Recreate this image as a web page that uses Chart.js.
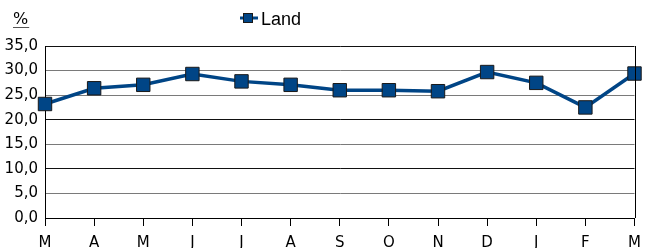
<!DOCTYPE html>
<html>
<head>
<meta charset="utf-8">
<script src="https://cdn.jsdelivr.net/npm/chart.js@4"></script>
<style>
  body { margin: 0; background: #fff; }
</style>
</head>
<body>
<canvas id="landChart" width="645" height="248"></canvas>
<script>
// months (M = mars ... M = mars next year)
const months = ['M', 'A', 'M', 'J', 'J', 'A', 'S', 'O', 'N', 'D', 'J', 'F', 'M'];
const landValues = [23.2, 26.4, 27.1, 29.3, 27.8, 27.1, 26.0, 26.0, 25.8, 29.7, 27.5, 22.5, 29.4];
const seriesName = 'Land';
const unitLabel = '%';
const yMin = 0;
const yMax = 35;
const yStep = 5;

const lineColor = '#004586';

// draws the legend, the % label and the right edge of the plot box
const extrasPlugin = {
    id: 'extras',
    afterDraw(chart) {
        const ctx = chart.ctx;
        const area = chart.chartArea;
        ctx.save();

        // right border
        ctx.strokeStyle = '#000';
        ctx.lineWidth = 1;
        ctx.beginPath();
        ctx.moveTo(Math.round(area.right) + 0.5, area.top);
        ctx.lineTo(Math.round(area.right) + 0.5, area.bottom);
        ctx.stroke();

        // % label, underlined
        ctx.fillStyle = '#000';
        ctx.font = '16px "DejaVu Sans"';
        ctx.textBaseline = 'alphabetic';
        ctx.fillText(unitLabel, 13, 24);
        const w = ctx.measureText(unitLabel).width;
        ctx.fillStyle = '#555';
        ctx.fillRect(13, 27, w + 1, 1);

        // legend: line + marker + text
        ctx.strokeStyle = lineColor;
        ctx.lineWidth = 3;
        ctx.beginPath();
        ctx.moveTo(240, 18);
        ctx.lineTo(258, 18);
        ctx.stroke();
        ctx.fillStyle = lineColor;
        ctx.fillRect(243, 13, 10, 10);
        ctx.strokeStyle = '#1a1a1a';
        ctx.lineWidth = 1;
        ctx.strokeRect(243.5, 13.5, 9, 9);
        ctx.fillStyle = '#000';
        ctx.font = '18px "Liberation Sans"';
        ctx.fillText(seriesName, 261, 25);

        ctx.restore();
    }
};

Chart.defaults.font.family = '"DejaVu Sans"';
Chart.defaults.color = '#000';

const ctx = document.getElementById('landChart').getContext('2d');
new Chart(ctx, {
    type: 'line',
    data: {
        labels: months,
        datasets: [{
            label: seriesName,
            data: landValues,
            borderColor: lineColor,
            backgroundColor: lineColor,
            borderWidth: 3.5,
            pointStyle: 'rect',
            pointRadius: 9.5,
            pointHoverRadius: 9.5,
            pointBackgroundColor: lineColor,
            pointBorderColor: '#1a1a1a',
            pointBorderWidth: 1,
            tension: 0,
            clip: false
        }]
    },
    options: {
        responsive: false,
        animation: false,
        layout: {
            padding: { top: 46, right: -5, left: 0, bottom: 0 }
        },
        plugins: {
            legend: { display: false },
            tooltip: { enabled: false }
        },
        scales: {
            x: {
                offset: false,
                grid: {
                    drawOnChartArea: false,
                    drawTicks: true,
                    tickLength: 8,
                    color: '#000'
                },
                border: { color: '#000' },
                ticks: {
                    font: { size: 15 },
                    padding: 8,
                    maxRotation: 0,
                    autoSkip: false
                },
                afterFit: function(scale) {
                    scale.height = 30;
                    scale.paddingRight = 0;
                }
            },
            y: {
                min: yMin,
                max: yMax,
                grid: {
                    drawTicks: false,
                    color: function(c) {
                        // alternate the look of the reference grid
                        const i = c.index;
                        return (i === 0 || i === 2 || i === 4 || i === 7) ? '#111' : '#7a7a7a';
                    },
                    lineWidth: 1
                },
                border: { color: '#000' },
                ticks: {
                    stepSize: yStep,
                    font: { size: 15 },
                    padding: 7,
                    callback: function(value) {
                        return value.toFixed(1).replace('.', ',');
                    }
                },
                afterFit: function(scale) {
                    scale.width = 45;
                }
            }
        }
    },
    plugins: [extrasPlugin]
});
</script>
</body>
</html>
